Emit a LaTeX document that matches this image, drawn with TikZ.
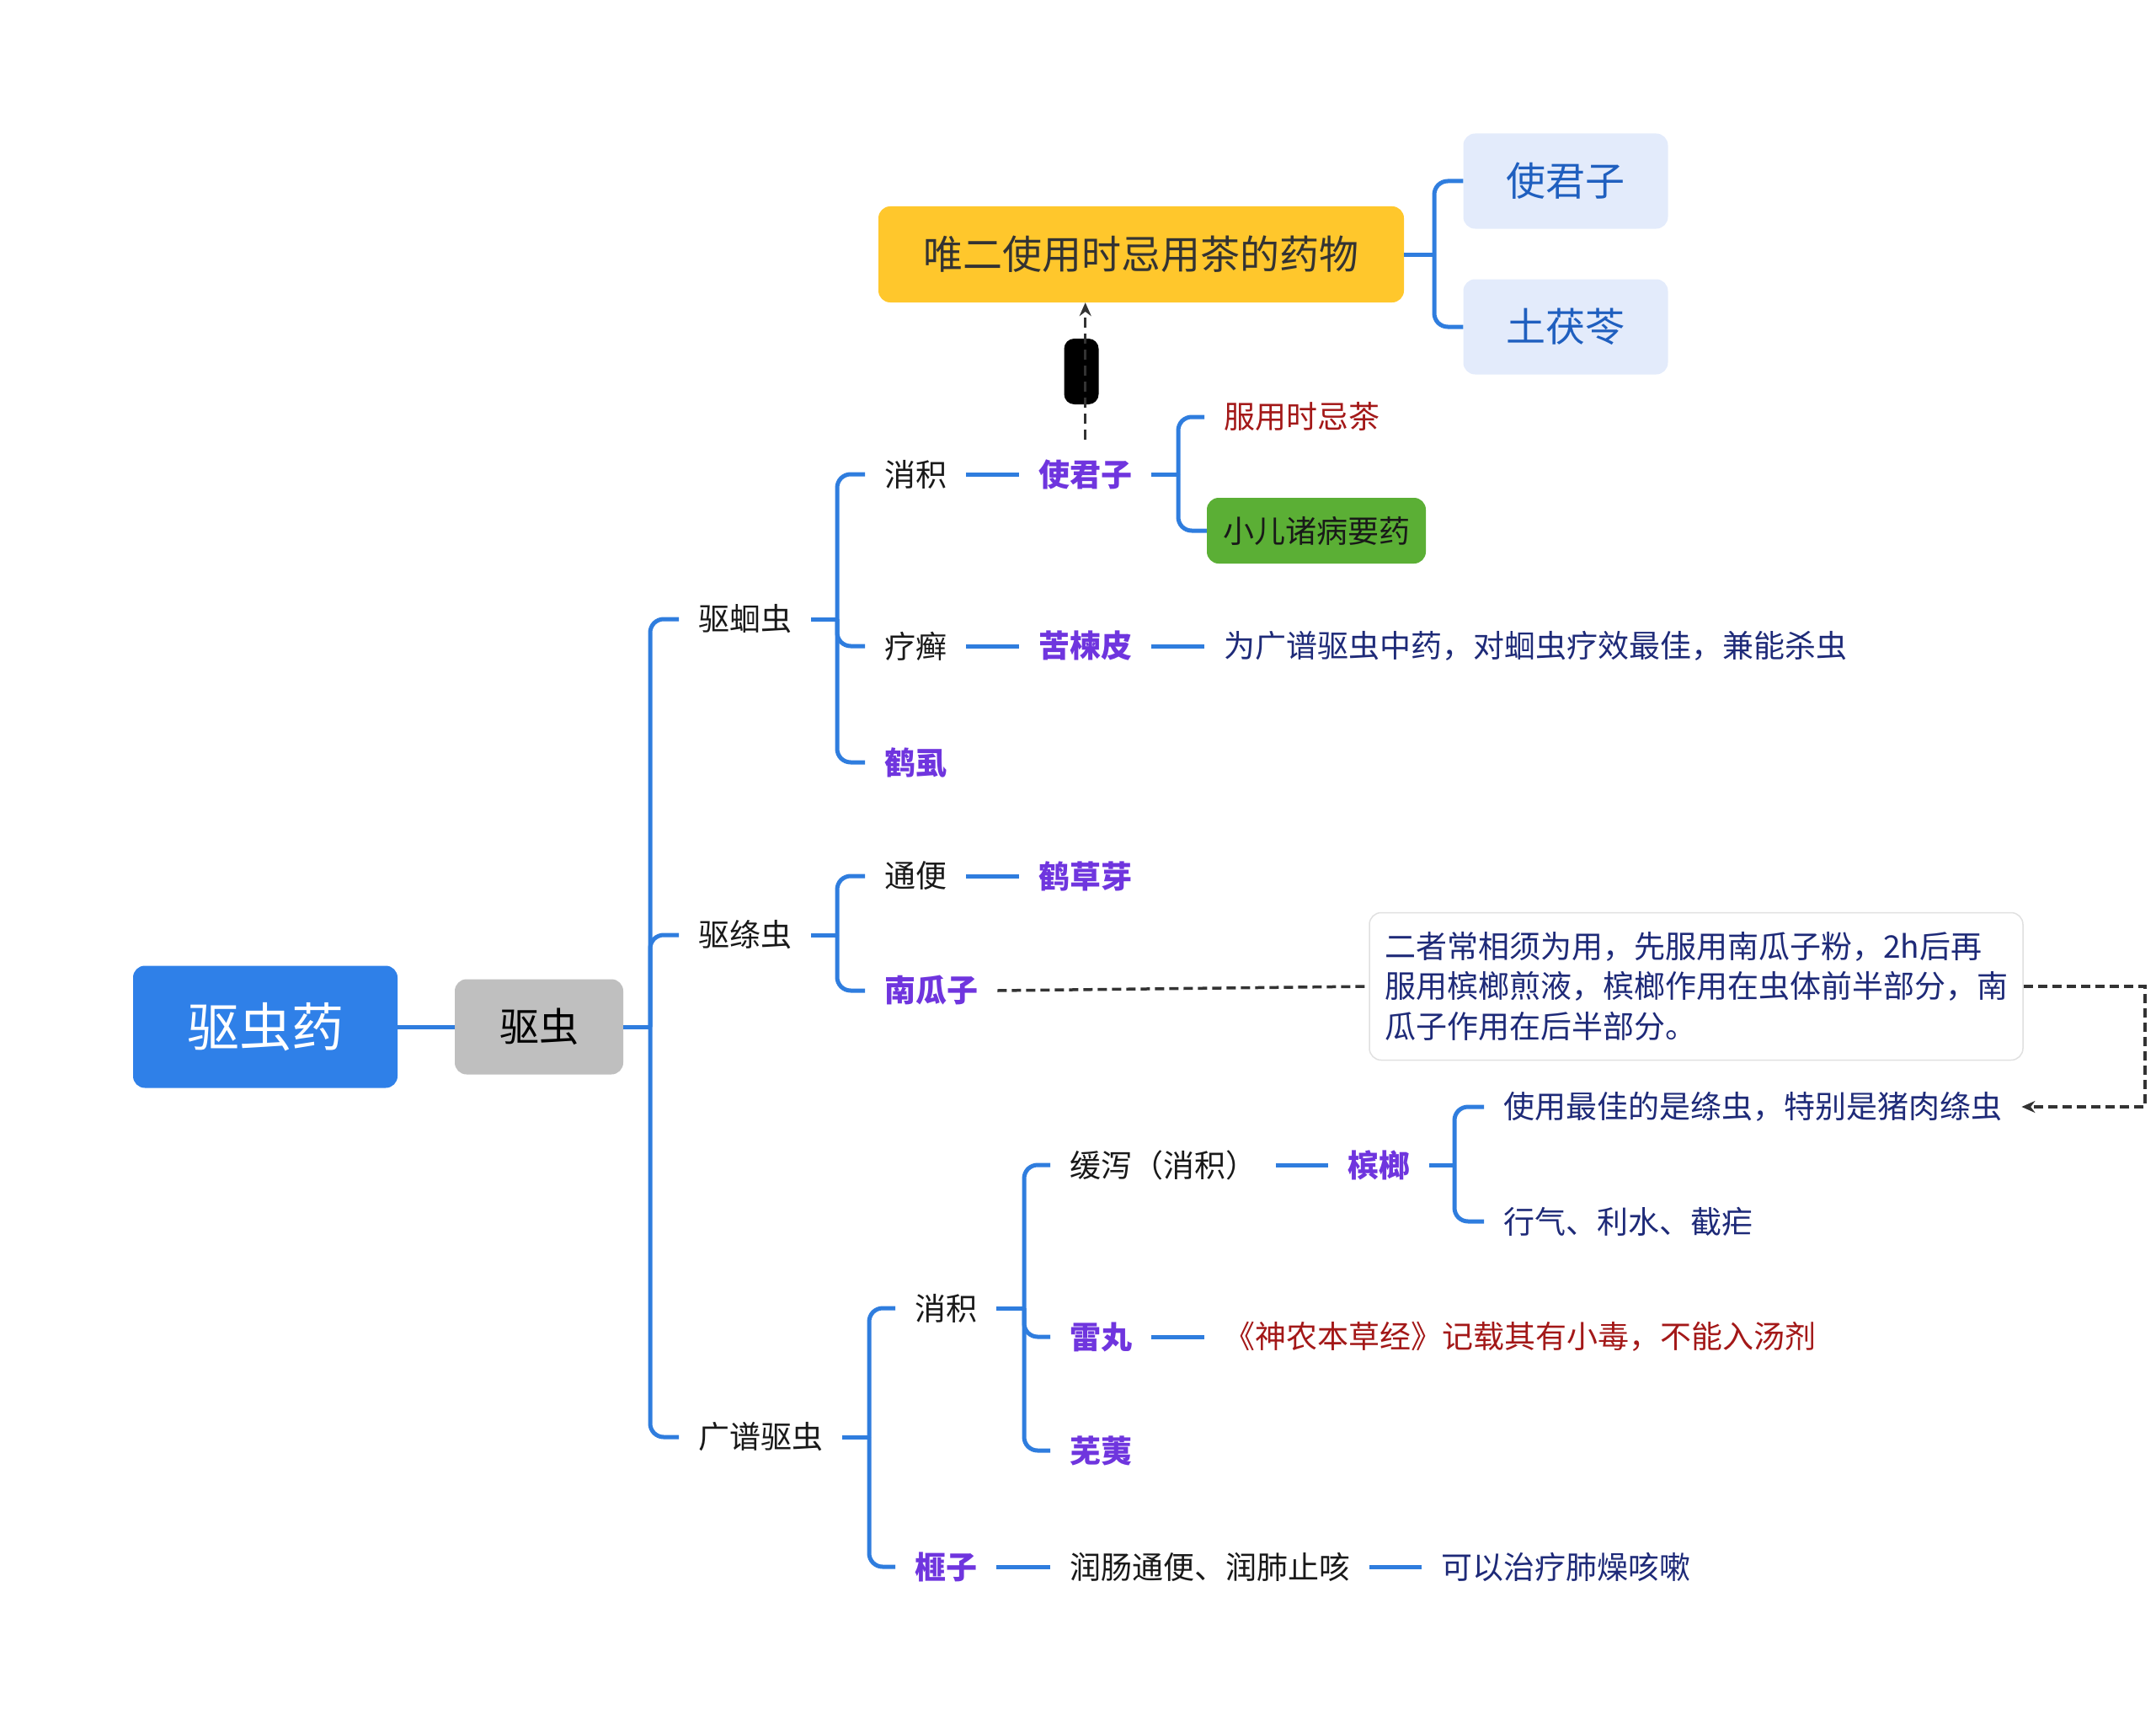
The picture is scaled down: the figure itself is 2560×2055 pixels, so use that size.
\documentclass[tikz,border=0pt]{standalone}
\usepackage{fontspec}
\setmainfont{Noto Sans CJK SC}
\usetikzlibrary{shapes}
\usetikzlibrary{arrows.meta}
\definecolor{linkblue}{HTML}{2F7DDE}
\definecolor{rootblue}{HTML}{2F80E8}
\definecolor{herbpurple}{HTML}{6F35DE}
\definecolor{warnred}{HTML}{A31818}
\definecolor{navytext}{HTML}{1E2A78}
\definecolor{teayellow}{HTML}{FFC72C}
\definecolor{leafgreen}{HTML}{5BAF35}
\definecolor{paleblue}{HTML}{E3EBFB}
\definecolor{boxblue}{HTML}{1F5FBF}
\definecolor{greybox}{HTML}{BFBFBF}

\begin{document}
\begin{tikzpicture}[x=1pt,y=-1pt]
				\tikzstyle{conn}=[draw=linkblue, line width=5pt]
				\tikzstyle{fork}=[conn, rounded corners=16pt]
				\tikzstyle{dashlink}=[draw=black!80, line width=3.5pt, dash pattern=on 11pt off 6pt]
				\tikzstyle{txt}=[inner xsep=23pt, inner ysep=6pt, anchor=west, text=black!90, font=\fontsize{37}{44}\selectfont]
				\tikzstyle{herb}=[txt, text=herbpurple, font=\fontsize{37}{44}\selectfont\bfseries]
				\tikzstyle{redtxt}=[txt, text=warnred]
				\tikzstyle{navytxt}=[txt, text=navytext]
				\tikzstyle{bigbox}=[rectangle, rounded corners=14pt, inner sep=0pt, font=\fontsize{47}{56}\selectfont]
				\useasboundingbox (0,0) rectangle (2560,2055);
				\node[bigbox, fill=rootblue, text=white, minimum width=314pt, minimum height=145pt, font=\fontsize{62}{74}\selectfont] (root) at (315,1219) {驱虫药};
				\node[bigbox, fill=greybox, text=black, minimum width=200pt, minimum height=113pt] (quchong) at (640,1219) {驱虫};
				\node[txt] (quhui) at (806,735) {驱蛔虫};
				\node[txt] (qutao) at (806,1110) {驱绦虫};
				\node[txt] (guangpu) at (806,1706) {广谱驱虫};
				\node[txt] (xiaojiA) at (1027,563) {消积};
				\node[herb] (shijunzi) at (1210,563) {使君子};
				\node[redtxt] (jicha) at (1430,495) {服用时忌茶};
				\node[bigbox, fill=leafgreen, text=black!90, minimum width=260pt, minimum height=78pt, font=\fontsize{37}{44}\selectfont] (xiaoer) at (1563,630) {小儿诸病要药};
				\node[bigbox, fill=teayellow, text=black!80, minimum width=624pt, minimum height=114pt] (tea) at (1355,302) {唯二使用时忌用茶的药物};
				\node[bigbox, fill=paleblue, text=boxblue, minimum width=243pt, minimum height=113pt] (sjzbox) at (1859,215) {使君子};
				\node[bigbox, fill=paleblue, text=boxblue, minimum width=243pt, minimum height=113pt] (tfl) at (1859,388) {土茯苓};
				\node[rectangle, rounded corners=12pt, fill=black, minimum width=41pt, minimum height=78pt] (rel) at (1284,441) {};
				\node[txt] (liaoxuan) at (1027,767) {疗癣};
				\node[herb] (kulian) at (1210,767) {苦楝皮};
				\node[navytxt] (kuliannote) at (1430,767) {为广谱驱虫中药，对蛔虫疗效最佳，兼能杀虫};
				\node[herb] (heshi) at (1027,905) {鹤虱};
				\node[txt] (tongbian) at (1027,1040) {通便};
				\node[herb] (hecaoya) at (1210,1040) {鹤草芽};
				\node[herb] (nangua) at (1027,1176) {南瓜子};
				\node[rectangle, rounded corners=14pt, draw=black!12, line width=1.5pt, fill=white, minimum width=776pt, minimum height=175pt, align=left, text=navytext, font=\fontsize{37}{47.5}\selectfont] (note) at (2014,1171) {二者常相须为用，先服用南瓜子粉，2h后再\\服用槟榔煎液，槟榔作用在虫体前半部分，南\\瓜子作用在后半部分。};
				\node[txt] (xiaojiB) at (1063,1553) {消积};
				\node[txt] (huanxie) at (1247,1383) {缓泻（消积）};
				\node[herb] (binlang) at (1577,1383) {槟榔};
				\node[navytxt] (zuijia) at (1762,1314) {使用最佳的是绦虫，特别是猪肉绦虫};
				\node[navytxt] (xingqi) at (1762,1450) {行气、利水、截疟};
				\node[herb] (leiwan) at (1247,1587) {雷丸};
				\node[redtxt] (leiwannote) at (1430,1587) {《神农本草经》记载其有小毒，不能入汤剂};
				\node[herb] (wuyi) at (1247,1722) {芜荑};
				\node[herb] (feizi) at (1063,1860) {榧子};
				\node[txt] (runchang) at (1247,1860) {润肠通便、润肺止咳};
				\node[navytxt] (feizinote) at (1688,1860) {可以治疗肺燥咳嗽};
				\coordinate (turn) at (2547,1171);
				\draw[conn] (root) -- (quchong);
				\draw[conn] (quchong.east) -- (772,1219);
				\foreach \c in {quhui,qutao,guangpu} \draw[fork] (772,1219) |- (\c.west);
				\draw[conn] (quhui.east) -- (994,735);
				\foreach \c in {xiaojiA,liaoxuan,heshi} \draw[fork] (994,735) |- (\c.west);
				\draw[conn] (xiaojiA) -- (shijunzi);
				\draw[conn] (shijunzi.east) -- (1399,563);
				\foreach \c in {jicha,xiaoer} \draw[fork] (1399,563) |- (\c.west);
				\draw[conn] (tea.east) -- (1703,302);
				\foreach \c in {sjzbox,tfl} \draw[fork] (1703,302) |- (\c.west);
				\draw[conn] (liaoxuan) -- (kulian);
				\draw[conn] (kulian) -- (kuliannote);
				\draw[conn] (qutao.east) -- (994,1110);
				\foreach \c in {tongbian,nangua} \draw[fork] (994,1110) |- (\c.west);
				\draw[conn] (tongbian) -- (hecaoya);
				\draw[conn] (guangpu.east) -- (1032,1706);
				\foreach \c in {xiaojiB,feizi} \draw[fork] (1032,1706) |- (\c.west);
				\draw[conn] (xiaojiB.east) -- (1216,1553);
				\foreach \c in {huanxie,leiwan,wuyi} \draw[fork] (1216,1553) |- (\c.west);
				\draw[conn] (huanxie) -- (binlang);
				\draw[conn] (binlang.east) -- (1727,1383);
				\foreach \c in {zuijia,xingqi} \draw[fork] (1727,1383) |- (\c.west);
				\draw[conn] (leiwan) -- (leiwannote);
				\draw[conn] (feizi) -- (runchang);
				\draw[conn] (runchang) -- (feizinote);
				\draw[dashlink] (nangua.east) -- (note.west);
				\draw[dashlink, -{Stealth[length=16pt,width=14pt]}] (note.east) -- (turn) |- (zuijia.east);
				\draw[dashlink, dash pattern=on 12pt off 7pt, -{Stealth[length=16pt,width=14pt]}] ([yshift=17pt]shijunzi.north) -- (shijunzi.north |- tea.south);
\end{tikzpicture}
\end{document}
